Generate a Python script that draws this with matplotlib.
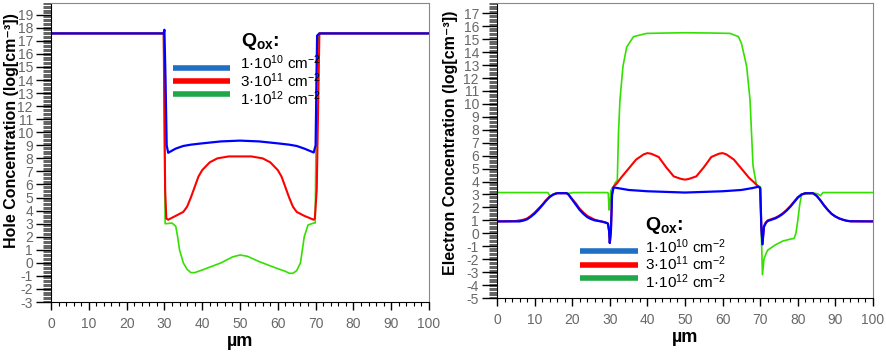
import matplotlib
matplotlib.use("Agg")
import matplotlib.pyplot as plt
from matplotlib.ticker import MultipleLocator

plt.rcParams['font.family'] = ['Liberation Sans', 'DejaVu Sans']
plt.rcParams['mathtext.fontset'] = 'custom'
plt.rcParams['mathtext.rm'] = 'Liberation Sans'
plt.rcParams['mathtext.it'] = 'Liberation Sans:italic'
plt.rcParams['mathtext.bf'] = 'Liberation Sans:bold'
plt.rcParams['axes.unicode_minus'] = False

# ---------------- Left panel: hole concentration ----------------
hole_blue_x = [0, 29.8, 30.0, 30.3, 30.6, 31.0, 33, 35, 37, 40, 45, 50, 55, 60, 63, 65, 67, 69.5, 70.0, 70.4, 71, 100]
hole_blue_y = [17.57, 17.57, 17.85, 14.0, 9.0, 8.43, 8.75, 8.95, 9.05, 9.15, 9.3, 9.36, 9.3, 9.15, 9.05, 8.95, 8.75, 8.45, 9.0, 17.4, 17.57, 17.57]

hole_red_x = [0, 29.8, 30.2, 30.5, 31, 33, 35, 36, 37, 38, 39, 40, 42, 44, 47, 50, 53, 56, 58, 60, 61, 62, 63, 64, 65, 67, 69.5, 69.8, 70.3, 71, 100]
hole_red_y = [17.57, 17.57, 5.6, 3.4, 3.3, 3.6, 3.9, 4.3, 5.0, 5.8, 6.6, 7.1, 7.7, 8.0, 8.15, 8.15, 8.15, 8.0, 7.7, 7.1, 6.6, 5.8, 5.0, 4.3, 3.9, 3.6, 3.3, 3.4, 5.6, 17.57, 17.57]

hole_green_x = [0, 29.8, 30.2, 30.5, 32, 33, 33.5, 34, 35, 36, 37, 38, 40, 45, 48, 50, 52, 55, 60, 62, 63, 64, 65, 66, 66.5, 67, 68, 69.5, 69.9, 70.3, 71, 100]
hole_green_y = [17.57, 17.57, 3.0, 3.0, 3.05, 2.8, 2.0, 1.0, 0.0, -0.5, -0.75, -0.75, -0.55, 0.0, 0.45, 0.6, 0.5, 0.1, -0.45, -0.65, -0.8, -0.8, -0.6, 0.0, 1.0, 2.0, 2.9, 3.05, 3.05, 16.0, 17.57, 17.57]

# ---------------- Right panel: electron concentration ----------------
el_blue_x = [0, 6, 7, 8, 9, 10, 11, 12, 13, 14, 15, 16, 18.5, 19, 20, 21, 22, 23, 24, 25, 26, 27, 28, 29, 29.5, 29.8, 30.0, 30.3, 30.6, 31.0, 32, 35, 40, 50, 60, 65, 68, 69.5, 70.0, 70.3, 70.6, 71.0, 71.5, 72, 73, 74, 75, 76, 77, 78, 79, 80, 81, 82, 84, 85, 86, 87, 88, 89, 90, 91, 92, 93, 94, 100]
el_blue_y = [0.92, 0.92, 0.98, 1.08, 1.28, 1.52, 1.82, 2.15, 2.5, 2.8, 3.0, 3.1, 3.1, 3.0, 2.6, 2.2, 1.8, 1.5, 1.25, 1.1, 1.0, 0.95, 0.9, 0.82, 0.75, 0.2, -0.75, 0.2, 3.0, 3.55, 3.5, 3.35, 3.25, 3.15, 3.25, 3.35, 3.5, 3.6, 3.5, 0.5, -0.85, 0.5, 0.8, 0.95, 1.05, 1.15, 1.3, 1.5, 1.75, 2.05, 2.4, 2.75, 3.0, 3.1, 3.1, 2.9, 2.55, 2.15, 1.8, 1.5, 1.3, 1.15, 1.05, 0.97, 0.93, 0.92]

el_red_x = [0, 5, 6, 7, 8, 9, 10, 11, 12, 13, 14, 15, 16, 18.5, 19, 20, 21, 22, 23, 24, 25, 26, 27, 28, 29, 29.5, 29.8, 30.0, 30.3, 30.6, 31, 32, 33, 35, 37, 39, 40, 41, 43, 45, 47, 49, 50, 51, 53, 55, 57, 59, 60, 61, 63, 65, 67, 68.5, 69.5, 70.0, 70.3, 70.6, 71.0, 71.5, 72, 73, 74, 75, 76, 77, 78, 79, 80, 81, 82, 84, 85, 86, 87, 88, 89, 90, 91, 92, 93, 94, 100]
el_red_y = [0.92, 0.95, 1.0, 1.05, 1.15, 1.35, 1.6, 1.9, 2.2, 2.55, 2.85, 3.0, 3.1, 3.1, 3.0, 2.65, 2.3, 1.9, 1.6, 1.35, 1.2, 1.05, 0.97, 0.9, 0.82, 0.75, 0.2, -0.75, 0.2, 3.0, 3.6, 3.9, 4.3, 5.0, 5.7, 6.1, 6.2, 6.15, 5.9, 5.1, 4.4, 4.2, 4.15, 4.2, 4.4, 5.1, 5.9, 6.15, 6.2, 6.1, 5.7, 5.0, 4.3, 3.9, 3.6, 3.5, 0.5, -0.85, 0.55, 0.85, 1.0, 1.1, 1.2, 1.35, 1.55, 1.8, 2.1, 2.45, 2.8, 3.0, 3.1, 3.1, 2.9, 2.55, 2.15, 1.8, 1.5, 1.3, 1.15, 1.05, 0.97, 0.93, 0.92]

el_green_x = [0, 13.5, 14.2, 14.8, 15.5, 19.5, 20.2, 29.3, 29.6, 29.8, 30.0, 30.3, 30.6, 31.0, 31.4, 32.0, 32.3, 32.7, 33.5, 34.5, 36.3, 39.8, 45, 50, 57, 62, 64.2, 65, 66.4, 67.3, 67.7, 68.1, 69, 70, 70.3, 70.6, 71, 71.5, 72, 74, 76, 78, 79, 79.5, 80, 80.5, 81, 84.5, 85.3, 86, 86.7, 100]
el_green_y = [3.15, 3.15, 2.85, 3.0, 3.1, 3.1, 3.15, 3.15, 3.1, 1.8, 2.2, 3.3, 3.5, 3.6, 3.9, 4.1, 7.7, 10.3, 12.9, 14.4, 15.2, 15.45, 15.48, 15.5, 15.48, 15.45, 15.2, 14.7, 12.9, 10.3, 7.7, 5.2, 3.75, 3.6, 0.0, -3.2, -2.0, -1.6, -1.3, -0.9, -0.6, -0.45, -0.4, 0.0, 1.0, 2.2, 3.0, 3.1, 3.05, 2.9, 3.15, 3.15]

legend_labels = ['1·10$^{10}$ cm$^{-2}$', '3·10$^{11}$ cm$^{-2}$', '1·10$^{12}$ cm$^{-2}$']
legend_colors = ['#1f6fc4', '#ff0000', '#1fa848']
line_blue, line_red, line_green = '#0000ff', '#ff0000', '#33e000'

W, H = 886, 352
fig = plt.figure(figsize=(W / 100, H / 100), dpi=100)

def px_axes(l, r, t, b):
    return fig.add_axes([l / W, 1 - b / H, (r - l) / W, (b - t) / H])

ax1 = px_axes(51, 429, 3, 302)
ax2 = px_axes(497, 873, 3, 298)

tick_color = '#686868'
for ax in (ax1, ax2):
    ax.set_xlim(0, 100)
    ax.xaxis.set_major_locator(MultipleLocator(10))
    ax.xaxis.set_minor_locator(MultipleLocator(2))
    ax.yaxis.set_major_locator(MultipleLocator(1))
    ax.yaxis.set_minor_locator(MultipleLocator(0.1))
    ax.tick_params(axis='both', which='major', labelsize=10, labelcolor=tick_color, color='black', direction='out', width=1.0)
    ax.tick_params(axis='x', which='major', length=6, pad=5)
    ax.tick_params(axis='x', which='minor', length=3, width=0.8)
    ax.tick_params(axis='y', which='major', length=11, pad=2)
    ax.tick_params(axis='y', which='minor', length=6, width=0.5, color='#222222')
    for s in ax.spines.values():
        s.set_linewidth(0.8)
    for s in ('top', 'right'):
        ax.spines[s].set_color('#888888')
    ax.set_xlabel('µm', fontsize=13, fontweight='bold', labelpad=1)

ax1.set_ylim(-3, 19.9)
ax2.set_ylim(-5, 17.8)

ax1.plot(hole_green_x, hole_green_y, color=line_green, lw=1.2)
ax1.plot(hole_red_x, hole_red_y, color=line_red, lw=1.5)
ax1.plot(hole_blue_x, hole_blue_y, color=line_blue, lw=1.6)

ax2.plot(el_green_x, el_green_y, color=line_green, lw=1.2)
ax2.plot(el_red_x, el_red_y, color=line_red, lw=1.5)
ax2.plot(el_blue_x, el_blue_y, color=line_blue, lw=1.6)

ax1.set_ylabel('Hole Concentration (log[cm⁻³])', fontsize=11.5, fontweight='bold')
ax1.yaxis.set_label_coords(-0.085, 0.575)
ax2.set_ylabel('Electron Concentration (log[cm⁻³])', fontsize=11.5, fontweight='bold')
ax2.yaxis.set_label_coords(-0.105, 0.525)

def draw_legend(x_line0, x_line1, line_ys, x_text, text_ys, q_xy):
    fig.text(q_xy[0] / W, 1 - q_xy[1] / H, r'Q$_{\mathbf{ox}}$:', fontsize=14, fontweight='bold', va='center', ha='left')
    for ly, ty, lab, c in zip(line_ys, text_ys, legend_labels, legend_colors):
        fig.add_artist(plt.Line2D([x_line0 / W, x_line1 / W], [1 - ly / H, 1 - ly / H], color=c, lw=4, solid_capstyle='butt'))
        fig.text(x_text / W, 1 - ty / H, lab, fontsize=11, va='center', ha='left')

draw_legend(173, 230, [68, 81, 94], 240, [63, 81, 99], (241, 42))
draw_legend(580, 638, [251, 265, 278], 645, [247, 264, 282], (645, 225))

fig.savefig('out.png', dpi=100)
